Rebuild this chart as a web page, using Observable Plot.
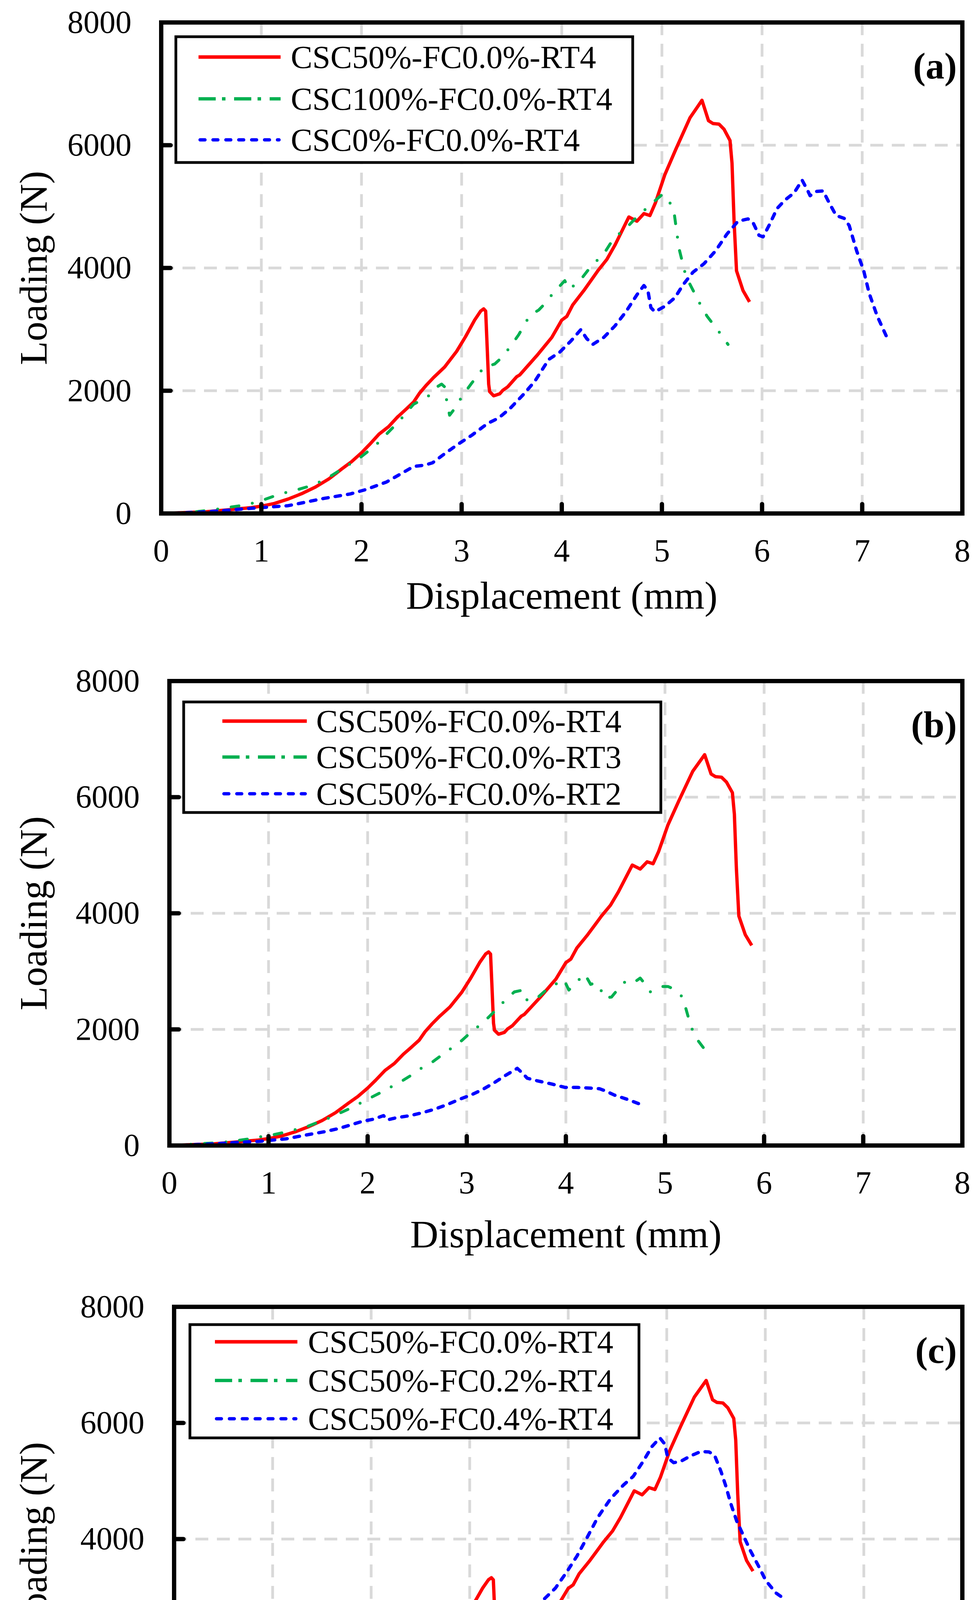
<!DOCTYPE html>
<html>
<head>
<meta charset="utf-8">
<script src="https://cdn.jsdelivr.net/npm/d3@7"></script>
<script src="https://cdn.jsdelivr.net/npm/@observablehq/plot@0.6"></script>
<style>
  html, body { margin: 0; padding: 0; background: #ffffff; }
  #chart { position: relative; width: 2500px; height: 4830px; background: #ffffff; overflow: hidden; }
  #chart svg { position: absolute; left: 0; }
</style>
</head>
<body>
<div id="chart"></div>
<script>
// ---------- Axis ticks ----------
const xTicks = [0, 1, 2, 3, 4, 5, 6, 7, 8];
const yTicks = [0, 2000, 4000, 6000, 8000];
const xGrid = [1, 2, 3, 4, 5, 6, 7];
const yGrid = [2000, 4000, 6000];
const xLabel = "Displacement (mm)";
const yLabel = "Loading (N)";

// ---------- Series data (displacement mm, load N) ----------
// CSC50%-FC0.0%-RT4 (shown in all three panels)
const csc50_fc00_rt4_x = [0, 0.45, 0.675, 0.9, 1.0, 1.13, 1.27, 1.40, 1.54, 1.675, 1.81, 1.90, 2.0, 2.08, 2.175, 2.27, 2.36, 2.45, 2.52, 2.58, 2.65, 2.72, 2.83, 2.95, 3.04, 3.13, 3.19, 3.22, 3.24, 3.255, 3.27, 3.28, 3.32, 3.38, 3.41, 3.46, 3.55, 3.58, 3.75, 3.9, 4.0, 4.05, 4.11, 4.22, 4.36, 4.45, 4.53, 4.67, 4.75, 4.82, 4.88, 4.935, 5.03, 5.14, 5.28, 5.40, 5.465, 5.51, 5.57, 5.62, 5.68, 5.70, 5.72, 5.745, 5.81, 5.875];
const csc50_fc00_rt4_y = [0, 29, 61, 95, 119, 163, 236, 321, 430, 564, 734, 843, 989, 1123, 1293, 1414, 1572, 1706, 1815, 1961, 2095, 2216, 2386, 2641, 2884, 3152, 3298, 3334, 3298, 2714, 2107, 1985, 1917, 1949, 2005, 2063, 2228, 2257, 2570, 2868, 3151, 3211, 3400, 3631, 3954, 4139, 4369, 4831, 4762, 4886, 4854, 5061, 5523, 5938, 6446, 6732, 6400, 6353, 6344, 6261, 6077, 5707, 4785, 3954, 3631, 3447];

// CSC100%-FC0.0%-RT4 (panel a)
const csc100_fc00_rt4_x = [0, 0.3, 0.5, 0.65, 0.85, 1.01, 1.19, 1.37, 1.53, 1.70, 1.89, 1.99, 2.14, 2.30, 2.38, 2.52, 2.66, 2.74, 2.80, 2.84, 2.85, 2.88, 2.95, 3.0, 3.10, 3.22, 3.33, 3.40, 3.48, 3.57, 3.68, 3.77, 3.84, 3.91, 4.03, 4.07, 4.17, 4.29, 4.42, 4.52, 4.64, 4.75, 4.89, 5.005, 5.06, 5.12, 5.17, 5.24, 5.37, 5.45, 5.59, 5.66];
const csc100_fc00_rt4_y = [0, 20, 55, 95, 140, 215, 319, 393, 468, 617, 811, 915, 1109, 1377, 1511, 1780, 1899, 2048, 2108, 2048, 1839, 1601, 1750, 1899, 2122, 2376, 2435, 2540, 2704, 2912, 3225, 3315, 3434, 3583, 3793, 3654, 3770, 4023, 4231, 4485, 4646, 4831, 5038, 5200, 5131, 4923, 4323, 3862, 3447, 3216, 2916, 2754];

// CSC0%-FC0.0%-RT4 (panel a)
const csc0_fc00_rt4_x = [0, 0.38, 0.65, 0.87, 1.12, 1.26, 1.40, 1.62, 1.89, 2.05, 2.25, 2.41, 2.52, 2.63, 2.71, 2.82, 2.96, 3.10, 3.26, 3.37, 3.48, 3.62, 3.73, 3.87, 3.98, 4.09, 4.19, 4.25, 4.31, 4.42, 4.53, 4.64, 4.75, 4.82, 4.86, 4.89, 4.93, 5.03, 5.13, 5.21, 5.31, 5.42, 5.535, 5.65, 5.76, 5.86, 5.91, 5.97, 6.01, 6.07, 6.15, 6.23, 6.32, 6.40, 6.46, 6.48, 6.54, 6.61, 6.67, 6.74, 6.82, 6.87, 6.945, 7.015, 7.07, 7.15, 7.24];
const csc0_fc00_rt4_y = [0, 21, 51, 80, 110, 125, 170, 244, 319, 393, 513, 662, 766, 787, 826, 960, 1124, 1273, 1467, 1556, 1705, 1944, 2152, 2510, 2629, 2808, 2995, 2847, 2755, 2870, 3054, 3285, 3562, 3714, 3631, 3354, 3285, 3377, 3516, 3723, 3931, 4069, 4277, 4554, 4762, 4799, 4739, 4531, 4508, 4693, 4969, 5108, 5223, 5431, 5246, 5177, 5246, 5255, 5061, 4854, 4808, 4692, 4277, 3954, 3585, 3216, 2893];

// CSC50%-FC0.0%-RT3 (panel b)
const csc50_fc00_rt3_x = [0, 0.29, 0.52, 0.65, 0.83, 0.89, 1.02, 1.20, 1.25, 1.37, 1.49, 1.60, 1.71, 1.82, 1.93, 2.03, 2.15, 2.24, 2.35, 2.46, 2.55, 2.66, 2.75, 2.85, 2.95, 3.04, 3.13, 3.22, 3.31, 3.39, 3.48, 3.57, 3.61, 3.70, 3.80, 3.88, 3.98, 4.03, 4.10, 4.19, 4.25, 4.29, 4.34, 4.38, 4.46, 4.53, 4.62, 4.71, 4.75, 4.79, 4.85, 4.97, 5.03, 5.08, 5.17, 5.21, 5.24, 5.28, 5.34, 5.41];
const csc50_fc00_rt3_y = [0, 29, 49, 78, 119, 143, 175, 241, 265, 313, 394, 467, 552, 637, 734, 824, 928, 1013, 1115, 1232, 1341, 1446, 1560, 1682, 1808, 1949, 2070, 2209, 2362, 2508, 2646, 2678, 2496, 2525, 2678, 2763, 2860, 2678, 2799, 2957, 2775, 2799, 2751, 2544, 2556, 2702, 2860, 2836, 2884, 2799, 2646, 2739, 2739, 2702, 2569, 2362, 2180, 1973, 1791, 1633];

// CSC50%-FC0.0%-RT2 (panel b)
const csc50_fc00_rt2_x = [0, 0.22, 0.45, 0.675, 0.90, 1.02, 1.175, 1.36, 1.56, 1.70, 1.81, 1.95, 2.06, 2.16, 2.20, 2.29, 2.43, 2.55, 2.675, 2.81, 2.925, 3.04, 3.16, 3.27, 3.38, 3.51, 3.57, 3.61, 3.71, 3.85, 3.99, 4.11, 4.24, 4.34, 4.40, 4.49, 4.62, 4.74];
const csc50_fc00_rt2_y = [0, 12, 29, 53, 70, 90, 114, 175, 236, 289, 345, 418, 454, 515, 442, 479, 515, 564, 625, 710, 795, 868, 965, 1074, 1196, 1329, 1232, 1159, 1115, 1062, 1001, 1001, 989, 977, 940, 868, 795, 717];

// CSC50%-FC0.2%-RT4 (panel c)
const csc50_fc02_rt4_x = [0, 0.21, 0.42, 0.60, 0.77, 0.95, 1.13, 1.29, 1.47, 1.64, 1.81, 1.97, 2.13, 2.29, 2.44, 2.63, 2.80, 2.97, 3.11, 3.27, 3.39, 3.47, 3.59, 3.73, 3.83, 3.95, 4.07, 4.16, 4.30, 4.48, 4.66, 4.79, 4.87, 4.96, 5.07, 5.14];
const csc50_fc02_rt4_y = [0, 25, 56, 81, 132, 196, 285, 412, 527, 616, 705, 858, 998, 1163, 1201, 1278, 1316, 1418, 1583, 1761, 1888, 1888, 1829, 1850, 1914, 1936, 1850, 1795, 1735, 1722, 1700, 1615, 1521, 1367, 1222, 1102];

// CSC50%-FC0.4%-RT4 (panel c)
const csc50_fc04_rt4_x = [0, 0.21, 0.39, 0.58, 0.76, 0.94, 1.08, 1.26, 1.45, 1.63, 1.81, 1.985, 2.16, 2.29, 2.40, 2.50, 2.61, 2.71, 2.80, 2.90, 2.98, 3.06, 3.16, 3.23, 3.33, 3.42, 3.57, 3.74, 3.87, 3.985, 4.09, 4.20, 4.30, 4.43, 4.56, 4.66, 4.76, 4.85, 4.93, 4.98, 5.01, 5.07, 5.14, 5.24, 5.345, 5.43, 5.485, 5.55, 5.60, 5.65, 5.71, 5.78, 5.85, 5.93, 6.006, 6.11, 6.20];
const csc50_fc04_rt4_y = [0, 18, 31, 48, 74, 99, 125, 183, 247, 361, 463, 616, 769, 909, 1023, 1150, 1316, 1468, 1634, 1812, 1977, 2117, 2181, 2232, 2359, 2486, 2663, 2941, 3155, 3433, 3711, 4053, 4374, 4695, 4930, 5080, 5337, 5594, 5743, 5636, 5401, 5316, 5337, 5431, 5508, 5500, 5444, 5166, 4910, 4610, 4310, 4053, 3796, 3540, 3283, 3069, 2962];

// ---------- Styles ----------
const FONT = "'Liberation Serif', 'Times New Roman', Times, serif";
const styles = {
  red:   {stroke: "#ff0000", strokeWidth: 8.5, dash: null, legendDash: null, cap: "butt"},
  green: {stroke: "#00b050", strokeWidth: 7.5, dash: "20,35,0,35", legendDash: "44,16,9,22", cap: "round"},
  blue:  {stroke: "#0000ff", strokeWidth: 8.5, dash: "14,18", legendDash: "12.5,20.5", cap: "round"}
};

const rows = (xs, ys) => xs.map((x, i) => ({x, y: ys[i]}));

const panels = [
  {
    tag: "(a)", top: 0, height: 1600, mt: 57, mb: 286, ml: 412, mr: 38, xLabelDy: 211,
    series: [
      {name: "CSC50%-FC0.0%-RT4", style: "red", x: csc50_fc00_rt4_x, y: csc50_fc00_rt4_y},
      {name: "CSC100%-FC0.0%-RT4", style: "green", x: csc100_fc00_rt4_x, y: csc100_fc00_rt4_y},
      {name: "CSC0%-FC0.0%-RT4", style: "blue", x: csc0_fc00_rt4_x, y: csc0_fc00_rt4_y}
    ],
    legend: {x0: 450, x1: 1619, y0: 94, y1: 416, rowsY: [146, 253, 358], lx0: 508, lx1: 718, tx: 744}
  },
  {
    tag: "(b)", top: 1600, height: 1620, mt: 143, mb: 288, ml: 433, mr: 38, xLabelDy: 228,
    series: [
      {name: "CSC50%-FC0.0%-RT4", style: "red", x: csc50_fc00_rt4_x, y: csc50_fc00_rt4_y},
      {name: "CSC50%-FC0.0%-RT3", style: "green", x: csc50_fc00_rt3_x, y: csc50_fc00_rt3_y},
      {name: "CSC50%-FC0.0%-RT2", style: "blue", x: csc50_fc00_rt2_x, y: csc50_fc00_rt2_y}
    ],
    legend: {x0: 470, x1: 1691, y0: 197, y1: 480, rowsY: [246, 338, 432], lx0: 569, lx1: 785, tx: 809}
  },
  {
    tag: "(c)", top: 3220, height: 1610, mt: 125, mb: 296, ml: 445, mr: 38, xLabelDy: 223,
    series: [
      {name: "CSC50%-FC0.0%-RT4", style: "red", x: csc50_fc00_rt4_x, y: csc50_fc00_rt4_y},
      {name: "CSC50%-FC0.2%-RT4", style: "green", x: csc50_fc02_rt4_x, y: csc50_fc02_rt4_y},
      {name: "CSC50%-FC0.4%-RT4", style: "blue", x: csc50_fc04_rt4_x, y: csc50_fc04_rt4_y}
    ],
    legend: {x0: 486, x1: 1635, y0: 171, y1: 461, rowsY: [215, 314, 412], lx0: 550, lx1: 761, tx: 788}
  }
];

const tickShape = {
  draw(context, l) { context.moveTo(0, 0); context.lineTo(0, -l); }
};

const container = document.getElementById("chart");

for (const p of panels) {
  const lineMarks = p.series.map(s => {
    const st = styles[s.style];
    const opts = {x: "x", y: "y", stroke: st.stroke, strokeWidth: st.strokeWidth,
                  strokeLinecap: st.cap, strokeLinejoin: "round", curve: "linear"};
    if (st.dash) opts.strokeDasharray = st.dash;
    return Plot.line(rows(s.x, s.y), opts);
  });

  const plot = Plot.plot({
    width: 2500,
    height: p.height,
    marginTop: p.mt,
    marginBottom: p.mb,
    marginLeft: p.ml,
    marginRight: p.mr,
    style: {fontFamily: FONT, fontSize: "82px", background: "#ffffff", color: "#000000", overflow: "visible"},
    x: {domain: [0, 8], ticks: xTicks},
    y: {domain: [0, 8000], ticks: yTicks},
    marks: [
      Plot.gridX(xGrid, {stroke: "#d9d9d9", strokeOpacity: 1, strokeWidth: 7, strokeDasharray: "33,22"}),
      Plot.gridY(yGrid, {stroke: "#d9d9d9", strokeOpacity: 1, strokeWidth: 7, strokeDasharray: "33,22"}),
      ...lineMarks,
      Plot.frame({stroke: "#000000", strokeWidth: 11}),
      Plot.vector(xTicks, {x: d => d, y: 0, length: 24, anchor: "start", rotate: 0, shape: tickShape, stroke: "#000000", strokeWidth: 11}),
      Plot.vector(yTicks, {x: 0, y: d => d, length: 24, anchor: "start", rotate: 90, shape: tickShape, stroke: "#000000", strokeWidth: 11}),
      Plot.axisX({ticks: xTicks, tickSize: 0, tickPadding: 64, label: null, fontSize: 82, tickFormat: d => String(d)}),
      Plot.axisY({ticks: yTicks, tickSize: 0, tickPadding: 76, label: null, fontSize: 82, tickFormat: d => String(d)}),
      Plot.text([xLabel], {frameAnchor: "bottom", dy: p.xLabelDy, fontSize: 100, textAnchor: "middle", lineAnchor: "middle", fill: "#000000"}),
      Plot.text([yLabel], {frameAnchor: "left", dx: -(p.ml - 86), rotate: -90, fontSize: 100, textAnchor: "middle", lineAnchor: "middle", fill: "#000000"}),
      Plot.text([p.tag], {frameAnchor: "top-right", dx: -14, dy: 113, textAnchor: "end", lineAnchor: "middle", fontWeight: "bold", fontSize: 96, fill: "#000000"})
    ]
  });

  plot.style.top = p.top + "px";
  container.appendChild(plot);

  // Legend box inside the plot area
  const L = p.legend;
  const svg = d3.select(plot);
  const g = svg.append("g").attr("class", "legend");
  g.append("rect")
    .attr("x", L.x0).attr("y", L.y0)
    .attr("width", L.x1 - L.x0).attr("height", L.y1 - L.y0)
    .attr("fill", "#ffffff").attr("stroke", "#000000").attr("stroke-width", 7);
  p.series.forEach((s, i) => {
    const st = styles[s.style];
    const cy = L.rowsY[i];
    const ln = g.append("line")
      .attr("x1", L.lx0).attr("x2", L.lx1)
      .attr("y1", cy).attr("y2", cy)
      .attr("stroke", st.stroke)
      .attr("stroke-width", s.style === "red" ? 9 : 8.5)
      .attr("stroke-linecap", s.style === "blue" ? "round" : "butt");
    if (st.legendDash) ln.attr("stroke-dasharray", st.legendDash);
    if (s.style === "blue") ln.attr("x1", L.lx0 + 4).attr("x2", L.lx1 - 4);
    g.append("text")
      .attr("x", L.tx).attr("y", cy + 28)
      .attr("text-anchor", "start")
      .style("text-anchor", "start")
      .attr("font-family", FONT).attr("font-size", 83)
      .attr("fill", "#000000")
      .text(s.name);
  });
}
</script>
</body>
</html>
